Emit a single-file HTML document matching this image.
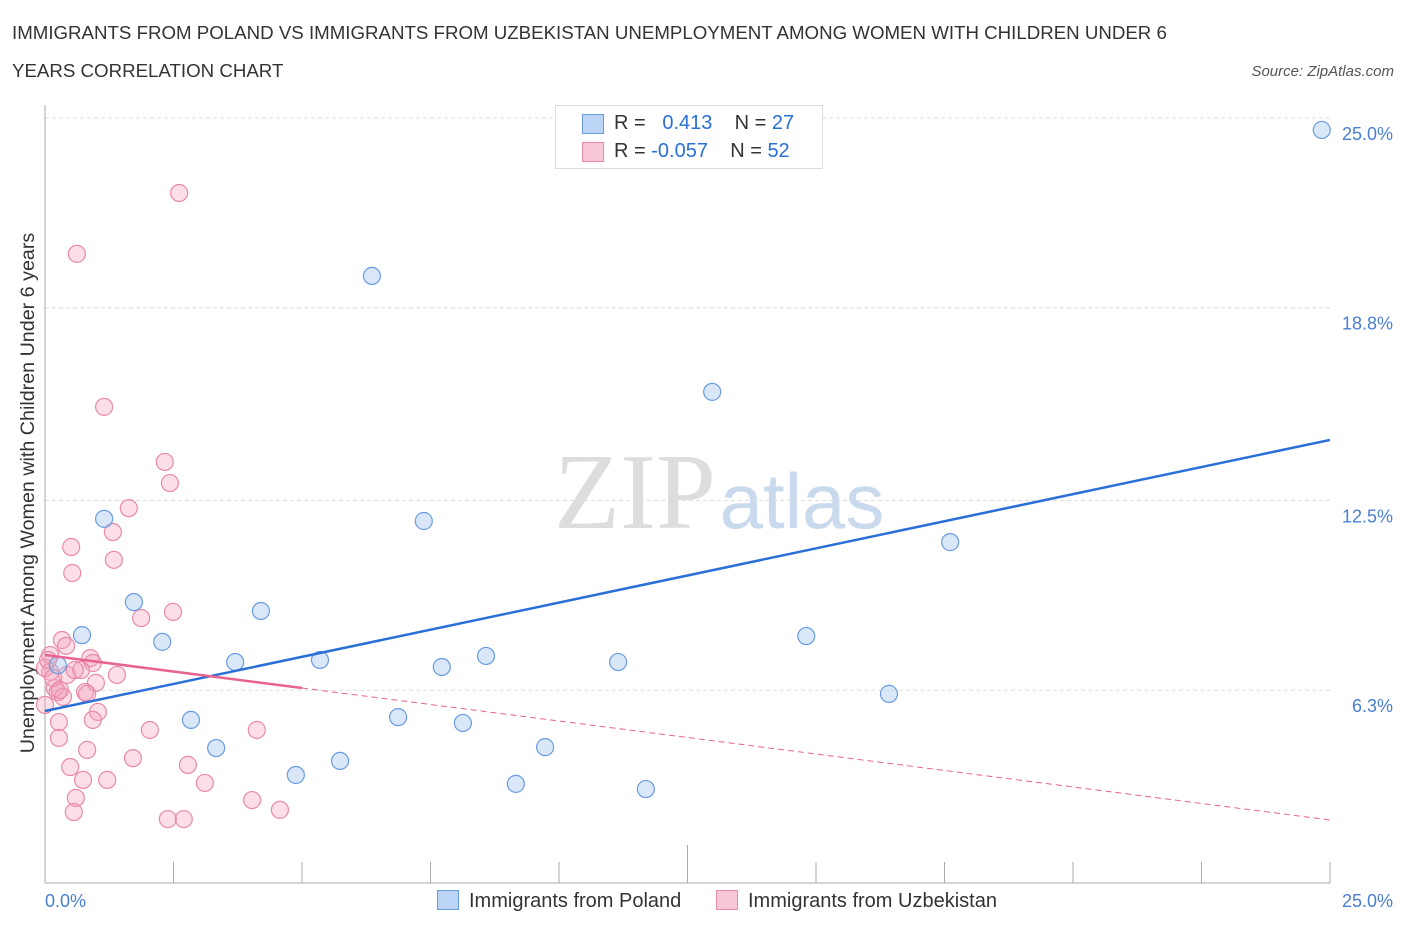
<!DOCTYPE html>
<html><head><meta charset="utf-8"><style>
body{margin:0;background:#fff;font-family:"Liberation Sans",sans-serif;}
#wrap{position:relative;width:1406px;height:930px;overflow:hidden;}
.t{position:absolute;white-space:nowrap;}
</style></head><body>
<div id="wrap">
<div class="t" style="left:12px;top:14px;font-size:18.7px;color:#333;line-height:38px;">IMMIGRANTS FROM POLAND VS IMMIGRANTS FROM UZBEKISTAN UNEMPLOYMENT AMONG WOMEN WITH CHILDREN UNDER 6<br>YEARS CORRELATION CHART</div>
<div class="t" style="right:12px;top:63px;font-size:15px;color:#555;font-style:italic;">Source: ZipAtlas.com</div>
<svg id="svg" width="1406" height="930" style="position:absolute;left:0;top:0"></svg>
</div>
<script>
const yTicks=[25,18.8,12.5,6.3];
const yTickLabels=["25.0%","18.8%","12.5%","6.3%"];
const xTickLabels=["0.0%","25.0%"];
const polandX=[24.84,6.36,12.98,1.15,7.37,17.61,1.73,4.20,0.72,2.28,14.81,3.70,5.35,8.58,7.72,11.15,16.42,2.84,6.87,8.13,3.33,9.73,4.88,5.74,9.16,11.69,0.25];
const polandY=[24.61,19.84,16.05,11.90,11.83,11.14,9.18,8.89,8.10,7.88,8.07,7.22,7.29,7.42,7.06,7.22,6.18,5.33,5.42,5.23,4.41,4.44,3.53,3.99,3.24,3.07,7.12];
const uzbX=[2.61,0.62,1.15,2.33,2.43,1.63,0.51,1.32,0.53,1.34,1.87,2.49,0.33,0.41,0.10,0.88,0.93,0.70,1.40,0.99,0.19,0.25,0.35,0.78,0.82,0.00,1.03,0.93,0.27,2.04,4.12,0.27,0.82,0.49,1.71,2.78,0.74,1.21,3.11,0.60,4.03,0.56,2.39,2.70,4.57,0.10,0.00,0.16,0.29,0.06,0.43,0.58];
const uzbY=[22.55,20.56,15.56,13.76,13.07,12.25,10.98,11.47,10.13,10.56,8.66,8.86,7.94,7.75,7.45,7.35,7.19,6.96,6.80,6.54,6.37,6.24,6.08,6.24,6.18,5.82,5.59,5.33,5.26,5.00,5.00,4.74,4.35,3.79,4.08,3.86,3.37,3.37,3.27,2.78,2.71,2.32,2.09,2.09,2.39,6.90,7.03,6.70,6.31,7.29,6.80,6.96];
const polandTrend=[5.62,14.48];
const uzbTrend=[7.45,2.06];
const uzbSolidEnd=5.0;
const X=v=>45+v/25*1285;
const Y=v=>883-v/25*765;
const svg=document.getElementById('svg');
const NS='http://www.w3.org/2000/svg';
function mk(t,a){const e=document.createElementNS(NS,t);for(const k in a)e.setAttribute(k,a[k]);svg.appendChild(e);return e;}
let w=mk('text',{x:635,y:528,'font-size':108,'font-family':'Liberation Serif,serif',fill:'#ddd','text-anchor':'middle'});w.textContent='ZIP';

let w2=mk('text',{x:802,y:528,'font-size':78,'font-family':'Liberation Sans,sans-serif',fill:'#c9d9ee','text-anchor':'middle'});w2.textContent='atlas';

yTicks.forEach((v,i)=>{
 const g=mk('line',{x1:45,x2:1330,y1:Y(v),y2:Y(v),stroke:'#ddd','stroke-dasharray':'4,3'});
 
 const t=mk('text',{x:1393,y:Y(v)+22,'font-size':18,fill:'#4a7fd0','text-anchor':'end'});t.textContent=yTickLabels[i];
 
});
let ax=mk('line',{x1:45,x2:45,y1:105,y2:883,stroke:'#aaa'});
let bx=mk('line',{x1:45,x2:1330,y1:883,y2:883,stroke:'#aaa'});
for(let i=0;i<=10;i++){const tk=mk('line',{x1:X(i*2.5),x2:X(i*2.5),y1:i==5?845:862,y2:883,stroke:'#aaa'});}
let xl0=mk('text',{x:45,y:907,'font-size':18,fill:'#4a7fd0'});xl0.textContent=xTickLabels[0];
let xl1=mk('text',{x:1393,y:907,'font-size':18,fill:'#4a7fd0','text-anchor':'end'});xl1.textContent=xTickLabels[1];
let yt=mk('text',{transform:'translate(34,493) rotate(-90)','font-size':19.7,fill:'#333','text-anchor':'middle'});yt.textContent='Unemployment Among Women with Children Under 6 years';

uzbX.forEach((x,i)=>{const c=mk('circle',{cx:X(x),cy:Y(uzbY[i]),r:8.5,fill:'rgba(244,160,185,0.35)',stroke:'#e88aa8','stroke-width':1.2});
});
polandX.forEach((x,i)=>{const c=mk('circle',{cx:X(x),cy:Y(polandY[i]),r:8.5,fill:'rgba(160,195,240,0.4)',stroke:'#6a9be0','stroke-width':1.2});
});
let pl=mk('line',{x1:X(0),y1:Y(polandTrend[0]),x2:X(25),y2:Y(polandTrend[1]),stroke:'#2a6fd6','stroke-width':2.5});

const uy=v=>uzbTrend[0]+(uzbTrend[1]-uzbTrend[0])*v/25;
let ul=mk('line',{x1:X(0),y1:Y(uy(0)),x2:X(uzbSolidEnd),y2:Y(uy(uzbSolidEnd)),stroke:'#e8648f','stroke-width':2.5});

let ud=mk('line',{x1:X(uzbSolidEnd),y1:Y(uy(uzbSolidEnd)),x2:X(25),y2:Y(uy(25)),stroke:'#e8648f','stroke-width':1,'stroke-dasharray':'6,4'});

</script>
<div style="position:absolute;left:555px;top:105px;width:266px;height:62px;border:1px solid #ddd;background:#fff;font-size:20px;color:#333;">
 <div style="position:absolute;left:26px;top:8px;width:20px;height:18px;background:#bcd4f6;border:1px solid #6a9be0;"></div>
 <div class="t" style="left:58px;top:6px;">R = &nbsp;&nbsp;<span style="color:#2a6fd6">0.413</span>&nbsp;&nbsp;&nbsp; N = <span style="color:#2a6fd6">27</span></div>
 <div style="position:absolute;left:26px;top:36px;width:20px;height:18px;background:#f9c8d6;border:1px solid #e88aa8;"></div>
 <div class="t" style="left:58px;top:34px;">R = <span style="color:#2a6fd6">-0.057</span>&nbsp;&nbsp;&nbsp; N = <span style="color:#2a6fd6">52</span></div>
</div>
<div style="position:absolute;left:437px;top:890px;font-size:20px;color:#333;">
 <div style="position:absolute;left:0;top:0;white-space:nowrap;"><span style="display:inline-block;width:20px;height:18px;background:#bcd4f6;border:1px solid #6a9be0;vertical-align:-3px;margin-right:10px;"></span>Immigrants from Poland</div>
 <div style="position:absolute;left:279px;top:0;white-space:nowrap;"><span style="display:inline-block;width:20px;height:18px;background:#f9c8d6;border:1px solid #e88aa8;vertical-align:-3px;margin-right:10px;"></span>Immigrants from Uzbekistan</div>
</div>
</body></html>
